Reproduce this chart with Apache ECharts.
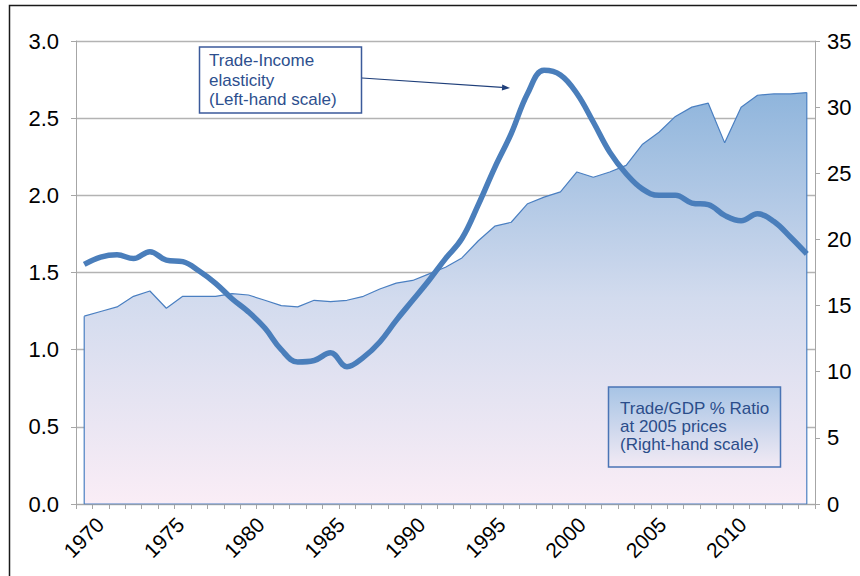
<!DOCTYPE html>
<html><head><meta charset="utf-8">
<script src="https://cdn.jsdelivr.net/npm/echarts@6/dist/echarts.min.js"></script>
<style>html,body{margin:0;padding:0;background:#fff}#c{width:860px;height:576px}</style>
</head><body><div id="c"></div>
<script>
const years = ['1969','1970','1971','1972','1973','1974','1975','1976','1977','1978','1979',
  '1980','1981','1982','1983','1984','1985','1986','1987','1988','1989',
  '1990','1991','1992','1993','1994','1995','1996','1997','1998','1999',
  '2000','2001','2002','2003','2004','2005','2006','2007','2008','2009',
  '2010','2011','2012','2013'];
// Year labels as laid out under the axis in the original (slightly tighter spacing than the data bands)
const labelYears = ['1969','1970','1971','1972','1973','1974','1975','1976','1977','1978','1979',
  '1980','1981','1982','1983','1984','1985','1986','1987','1988','1989',
  '1990','1991','1992','1993','1994','1995','1996','1997','1998','1999',
  '2000','2001','2002','2003','2004','2005','2006','2007','2008','2009',
  '2010','2011','2012','2013','2014'];
// Trade/GDP % ratio at 2005 prices (right-hand scale)
const tradeGdp = [14.2,14.55,14.9,15.7,16.1,14.8,15.7,15.7,15.7,15.9,15.8,
  15.4,15.0,14.9,15.4,15.3,15.4,15.7,16.25,16.7,16.9,
  17.4,17.9,18.6,19.9,21.0,21.3,22.7,23.2,23.6,25.1,
  24.7,25.1,25.6,27.2,28.1,29.3,30.0,30.3,27.3,30.0,
  30.9,31.0,31.0,31.1];
// Trade-income elasticity (left-hand scale)
const elasticity = [1.553,1.60,1.615,1.59,1.635,1.58,1.57,1.51,1.43,1.33,1.245,
  1.14,1.00,0.92,0.93,0.98,0.89,0.95,1.05,1.19,1.32,
  1.45,1.59,1.72,1.94,2.18,2.40,2.66,2.81,2.78,2.66,
  2.475,2.28,2.14,2.04,2.00,2.00,1.95,1.94,1.87,1.835,
  1.88,1.83,1.73,1.62];
const leftAxis = {min: 0, max: 3, step: 0.5};
const rightAxis = {min: 0, max: 35, step: 5};
const labelEvery = 5;
const note1 = 'Trade-Income\nelasticity\n(Left-hand scale)';
const note2 = 'Trade/GDP % Ratio\nat 2005 prices\n(Right-hand scale)';

const FONT = '"Liberation Sans", Arial, sans-serif';
const n = years.length;
const edge = [[0, tradeGdp[0]], [0, 0], [n - 1, 0], [n - 1, tradeGdp[n - 1]]];

const chart = echarts.init(document.getElementById('c'), null, {renderer: 'svg'});

// arrow geometry
const ax0 = 362, ay0 = 78, ax1 = 510, ay1 = 88;
const L = Math.hypot(ax1 - ax0, ay1 - ay0);
const ux = (ax1 - ax0) / L, uy = (ay1 - ay0) / L;
const bx = ax1 - 8 * ux, by = ay1 - 8 * uy;
const headPts = [[ax1, ay1], [bx - 3 * uy, by + 3 * ux], [bx + 3 * uy, by - 3 * ux]];

chart.setOption({
  animation: false,
  backgroundColor: '#ffffff',
  grid: {left: 76, right: 45, top: 41, bottom: 72, containLabel: false},
  xAxis: [{
    type: 'category',
    data: years,
    boundaryGap: true,
    axisLine: {show: true, lineStyle: {color: '#a6a6a6', width: 1}},
    axisTick: {show: true, interval: 0, length: 5, lineStyle: {color: '#a6a6a6'}},
    axisLabel: {show: false},
    splitLine: {show: false}
  }, {
    type: 'category',
    data: labelYears,
    position: 'bottom',
    boundaryGap: true,
    axisLine: {show: false},
    axisTick: {show: false},
    axisLabel: {
      interval: (i, v) => Number(v) % labelEvery === 0,
      rotate: 45, margin: 17,
      fontSize: 21, color: '#000', fontFamily: FONT
    },
    splitLine: {show: false}
  }],
  yAxis: [{
    type: 'value', position: 'left',
    min: leftAxis.min, max: leftAxis.max, interval: leftAxis.step,
    axisLine: {show: true, lineStyle: {color: '#a6a6a6'}},
    axisTick: {show: true, length: 5, lineStyle: {color: '#a6a6a6'}},
    axisLabel: {formatter: v => v.toFixed(1), fontSize: 22, color: '#000', fontFamily: FONT,
                margin: 17, padding: [0, 0, 6, 0]},
    splitLine: {show: true, lineStyle: {color: '#b3b3b3', width: 1.3}}
  }, {
    type: 'value', position: 'right',
    min: rightAxis.min, max: rightAxis.max, interval: rightAxis.step,
    axisLine: {show: true, lineStyle: {color: '#a6a6a6'}},
    axisTick: {show: true, length: 5, lineStyle: {color: '#a6a6a6'}},
    axisLabel: {fontSize: 22, color: '#000', fontFamily: FONT, margin: 12, padding: [0, 0, 6, 0]},
    splitLine: {show: false}
  }],
  series: [{
    name: 'Trade/GDP % Ratio',
    type: 'line', xAxisIndex: 0, yAxisIndex: 1, data: tradeGdp,
    symbol: 'none', smooth: false, z: 2,
    lineStyle: {color: '#4a7fc1', width: 1.2},
    areaStyle: {
      opacity: 1,
      color: new echarts.graphic.LinearGradient(0, 0, 0, 1, [
        {offset: 0, color: '#8fb5dc'},
        {offset: 0.5, color: '#d2dbee'},
        {offset: 1, color: '#faedf6'}
      ])
    }
  }, {
    name: 'edge',
    type: 'line', xAxisIndex: 0, yAxisIndex: 1, data: edge,
    symbol: 'none', z: 3,
    lineStyle: {color: '#4a7fc1', width: 1.2}
  }, {
    name: 'Trade-Income elasticity',
    type: 'line', xAxisIndex: 0, yAxisIndex: 0, data: elasticity,
    symbol: 'none', smooth: 0.4, z: 5,
    lineStyle: {color: '#4a7ebb', width: 5.5}
  }],
  graphic: [
    {type: 'polyline', silent: true, z: 100,
     shape: {points: [[857, 5.5], [9.5, 5.5], [9.5, 580]]},
     style: {fill: 'none', stroke: '#1a1a1a', lineWidth: 1.5}},
    {type: 'rect', z: 100, shape: {x: 199.5, y: 47, width: 162, height: 66},
     style: {fill: '#ffffff', stroke: '#3b5a9a', lineWidth: 1.5}},
    {type: 'text', z: 101, x: 209, y: 51,
     style: {text: note1, font: '17px ' + FONT, fill: '#2d4f8e', lineHeight: 19.5}},
    {type: 'line', z: 100, shape: {x1: ax0, y1: ay0, x2: bx, y2: by},
     style: {stroke: '#1f3f7a', lineWidth: 1.2}},
    {type: 'polygon', z: 100, shape: {points: headPts}, style: {fill: '#1f3f7a'}},
    {type: 'rect', z: 100, shape: {x: 608.5, y: 387, width: 172, height: 80},
     style: {
       fill: new echarts.graphic.LinearGradient(0, 0, 0, 1, [
         {offset: 0, color: '#a7c4e5'}, {offset: 1, color: '#f2eaf4'}]),
       stroke: '#4a74b5', lineWidth: 1.5}},
    {type: 'text', z: 101, x: 620, y: 399,
     style: {text: note2, font: '17px ' + FONT, fill: '#2b4d8a', lineHeight: 18}}
  ]
});
</script>
</body></html>
